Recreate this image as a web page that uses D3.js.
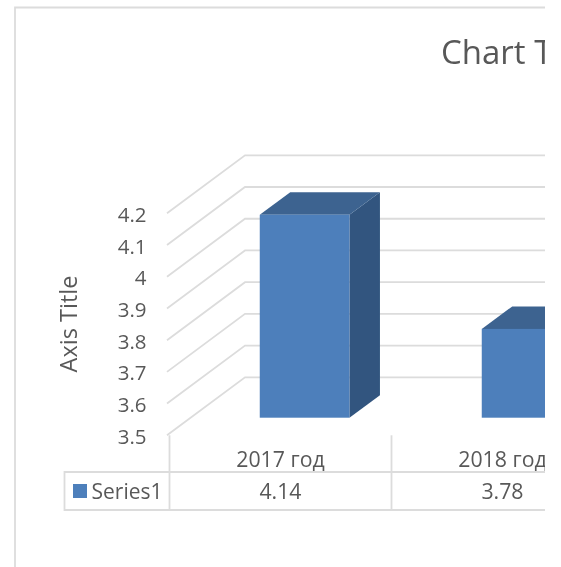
<!DOCTYPE html>
<html>
<head>
<meta charset="utf-8">
<script src="https://cdn.jsdelivr.net/npm/d3@7"></script>
<style>
html,body{margin:0;padding:0;background:#fff;overflow:hidden}
text{font-family:"Open Sans","Noto Sans",sans-serif;fill:#595959}
</style>
</head>
<body>
<svg id="c" width="561" height="567"></svg>
<script>
const categories = ["2017 год", "2018 год"];
const values = [4.14, 3.78];
const valueLabels = ["4.14", "3.78"];
const seriesName = "Series1";
const yTicks = [3.5, 3.6, 3.7, 3.8, 3.9, 4, 4.1, 4.2];
const chartTitle = "Chart Title";
const axisTitle = "Axis Title";

const W = 561, H = 567, clipRight = 545;
const depth = {dx: 78, dy: -58};      // wall depth
const barDepth = {dx: 30.5, dy: -22.5};
const barOffset = {dx: 24.1, dy: -17.6};
const colors = {front:"#4e7fbb", top:"#3c6390", side:"#31557f", grid:"#dcdcdc", line:"#dcdcdc"};

const svg = d3.select("#c");
const defs = svg.append("defs");
defs.append("clipPath").attr("id","clip").append("rect")
  .attr("x",0).attr("y",0).attr("width",clipRight).attr("height",H);
defs.append("filter").attr("id","soft").append("feGaussianBlur").attr("stdDeviation",0.35);

const root = svg.append("g").attr("clip-path","url(#clip)").append("g").attr("filter","url(#soft)");

const x = d3.scaleBand().domain(categories).range([169.5, 613.5]).paddingInner(0).paddingOuter(0);
const y = d3.scaleLinear().domain([3.5, 4.2]).range([435.3, 213.3]);
const xFront = x.range()[0] - 2.5;

// frame
root.append("path").attr("d",`M${clipRight+20},7.5H15V${H+10}`)
  .attr("fill","none").attr("stroke","#dcdcdc").attr("stroke-width",1.8);

// gridlines: side wall + back wall
root.append("g").selectAll("path").data(yTicks).join("path")
  .attr("fill","none").attr("stroke",colors.grid).attr("stroke-width",1.8)
  .attr("d", d => `M${xFront},${y(d)}L${xFront+depth.dx},${y(d)+depth.dy}H${clipRight+10}`);

// bars
const bars = root.append("g").selectAll("g").data(categories.map((c,i)=>({c,v:values[i]}))).join("g");
const barW = 89.7;
const bx0 = d => x(d.c) + x.bandwidth()/2 - barW/2 + barOffset.dx;
const by0 = y(3.5) + barOffset.dy;
const byTop = d => y(d.v) + barOffset.dy;
bars.append("path").attr("fill",colors.side).attr("d", d => {
  const r = bx0(d)+barW, t = byTop(d);
  return `M${r},${t}L${r+barDepth.dx},${t+barDepth.dy}V${by0+barDepth.dy}L${r},${by0}Z`;
});
bars.append("path").attr("fill",colors.top).attr("d", d => {
  const l = bx0(d), r = l+barW, t = byTop(d);
  return `M${l},${t}L${l+barDepth.dx},${t+barDepth.dy}H${r+barDepth.dx}L${r},${t}Z`;
});
bars.append("rect").attr("fill",colors.front)
  .attr("x",bx0).attr("y",byTop).attr("width",barW).attr("height",d=>by0-byTop(d));

// y axis labels
const axis = d3.axisLeft(y).tickValues(yTicks).tickSize(0).tickPadding(0).tickFormat(d3.format("~g"));
const ag = root.append("g").attr("transform","translate(146.5,1.5)").call(axis);
ag.select(".domain").remove();
ag.selectAll("text").attr("font-size",20.5).style("font-family",'"Open Sans","Noto Sans",sans-serif').attr("fill","#595959");

// data table
const tTop = 472, tBot = 510, tLeft = 64.5;
const tl = root.append("g").attr("fill","none").attr("stroke",colors.line).attr("stroke-width",1.8);
tl.append("path").attr("d",`M${clipRight+10},${tTop}H${tLeft}V${tBot}H${clipRight+10}`);
const seps = [x.range()[0]].concat(categories.map(c=>x(c)+x.bandwidth()));
tl.selectAll("line").data(seps).join("line")
  .attr("x1",d=>d).attr("x2",d=>d).attr("y1",435.3).attr("y2",tBot);

root.selectAll(".cat").data(categories).join("text").attr("class","cat")
  .attr("x",c=>x(c)+x.bandwidth()/2).attr("y",467).attr("text-anchor","middle")
  .attr("font-size",21.3).text(c=>c);
root.selectAll(".val").data(valueLabels).join("text").attr("class","val")
  .attr("x",(d,i)=>x(categories[i])+x.bandwidth()/2).attr("y",498.5).attr("text-anchor","middle")
  .attr("font-size",21.3).text(d=>d);

// legend key in table
root.append("rect").attr("x",73).attr("y",484).attr("width",14).attr("height",14).attr("fill",colors.front);
root.append("text").attr("x",91.5).attr("y",498.5).attr("font-size",21).text(seriesName);

// titles
root.append("text").attr("x",441).attr("y",64).attr("font-size",33).text(chartTitle);
root.append("text").attr("transform","translate(77,324) rotate(-90)").attr("text-anchor","middle")
  .attr("font-size",23.5).text(axisTitle);
</script>
</body>
</html>
